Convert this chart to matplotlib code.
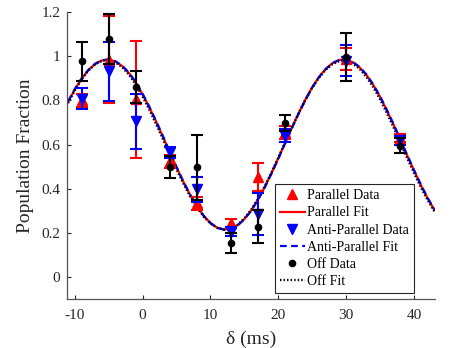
import numpy as np
import matplotlib
matplotlib.use('Agg')
import matplotlib.pyplot as plt

plt.rcParams['font.family'] = ['Liberation Serif', 'DejaVu Serif']
plt.rcParams['axes.unicode_minus'] = False

# measured data (delay in ms, population fraction, error)
delay = [-9, -5, -1, 4, 8, 13, 17, 21, 30, 38]

par_y = [0.800, 0.985, 0.805, 0.525, 0.335, 0.244, 0.454, 0.655, 0.987, 0.630]
par_err = [0.030, 0.195, 0.265, 0.030, 0.030, 0.020, 0.064, 0.030, 0.048, 0.020]

anti_y = [0.808, 0.932, 0.705, 0.565, 0.398, 0.206, 0.285, 0.640, 0.980, 0.620]
anti_err = [0.046, 0.133, 0.125, 0.025, 0.056, 0.020, 0.095, 0.030, 0.070, 0.020]

off_y = [0.977, 1.077, 0.862, 0.500, 0.497, 0.153, 0.229, 0.699, 0.995, 0.595]
off_err = [0.088, 0.113, 0.072, 0.050, 0.146, 0.045, 0.073, 0.037, 0.108, 0.035]

fit_x = np.arange(-11, 44)
par_fit = [0.793, 0.849, 0.898, 0.937, 0.965, 0.981, 0.985, 0.976, 0.955, 0.923,
           0.880, 0.827, 0.768, 0.703, 0.635, 0.565, 0.497, 0.432, 0.373, 0.321,
           0.278, 0.245, 0.224, 0.216, 0.219, 0.235, 0.263, 0.302, 0.351, 0.408,
           0.471, 0.538, 0.607, 0.676, 0.742, 0.804, 0.859, 0.906, 0.943, 0.969,
           0.983, 0.984, 0.973, 0.949, 0.915, 0.870, 0.816, 0.755, 0.690, 0.621,
           0.551, 0.484, 0.418, 0.358, 0.305]
anti_fit = [0.795, 0.851, 0.899, 0.938, 0.966, 0.982, 0.985, 0.977, 0.957, 0.925,
            0.882, 0.830, 0.771, 0.706, 0.638, 0.568, 0.499, 0.434, 0.374, 0.322,
            0.278, 0.245, 0.223, 0.215, 0.218, 0.234, 0.262, 0.300, 0.349, 0.406,
            0.469, 0.536, 0.605, 0.674, 0.740, 0.802, 0.858, 0.905, 0.942, 0.969,
            0.983, 0.985, 0.974, 0.951, 0.917, 0.872, 0.818, 0.757, 0.692, 0.623,
            0.553, 0.485, 0.420, 0.360, 0.307]
off_fit = [0.788, 0.845, 0.895, 0.935, 0.963, 0.979, 0.982, 0.972, 0.950, 0.916,
           0.871, 0.817, 0.757, 0.692, 0.624, 0.555, 0.488, 0.424, 0.366, 0.316,
           0.274, 0.243, 0.223, 0.215, 0.220, 0.237, 0.266, 0.305, 0.354, 0.411,
           0.474, 0.541, 0.609, 0.677, 0.742, 0.803, 0.857, 0.903, 0.939, 0.964,
           0.978, 0.979, 0.967, 0.942, 0.906, 0.860, 0.805, 0.743, 0.677, 0.608,
           0.539, 0.472, 0.408, 0.350, 0.298]

x_ticks = [-10, 0, 10, 20, 30, 40]
y_ticks = [0, 0.2, 0.4, 0.6, 0.8, 1.0, 1.2]
y_tick_labels = ['0', '0.2', '0.4', '0.6', '0.8', '1', '1.2']

fig = plt.figure(figsize=(4.5, 3.48), dpi=100)
ax = fig.add_axes([0.1496, 0.14, 0.817, 0.8255])

# fits
h_pf, = ax.plot(fit_x, par_fit, color='#ff0000', lw=1.6, label='Parallel Fit')
h_af, = ax.plot(fit_x, anti_fit, color='#0000ff', lw=1.6, ls=(0, (3, 2)),
                label='Anti-Parallel Fit')
h_of, = ax.plot(fit_x, off_fit, color='black', lw=1.7, ls=(0, (0.6, 0.9)),
                label='Off Fit')

# data with error bars
ebar = dict(fmt='none', elinewidth=1.5, capsize=4, capthick=1.5)
ax.errorbar(delay, par_y, yerr=par_err, ecolor='#ff0000', **ebar)
h_pd, = ax.plot(delay, par_y, ls='none', marker='^', ms=7, color='#ff0000',
                label='Parallel Data')
ax.errorbar(delay, anti_y, yerr=anti_err, ecolor='#0000ff', **ebar)
h_ad, = ax.plot(delay, anti_y, ls='none', marker='v', ms=7, color='#0000ff',
                label='Anti-Parallel Data')
ax.errorbar(delay, off_y, yerr=off_err, ecolor='black', **ebar)
h_od, = ax.plot(delay, off_y, ls='none', marker='o', ms=4.5, color='black',
                label='Off Data')

ax.set_xlim(-11.1, 43.1)
ax.set_ylim(-0.1, 1.2)
ax.set_xticks(x_ticks)
ax.set_yticks(y_ticks)
ax.set_yticklabels(y_tick_labels)
ax.tick_params(direction='in', length=3, labelsize=11, colors='#262626', width=0.8)
ax.tick_params(axis='x', pad=7)
ax.tick_params(axis='y', pad=5)
for s in ['top', 'right']:
    ax.spines[s].set_visible(False)
for s in ['left', 'bottom']:
    ax.spines[s].set_color('#555555')
    ax.spines[s].set_linewidth(0.9)

ax.set_xlabel('δ (ms)', fontsize=14, color='#262626', labelpad=6)
ax.set_ylabel('Population Fraction', fontsize=14, color='#262626', labelpad=5)

leg = ax.legend(handles=[h_pd, h_pf, h_ad, h_af, h_od, h_of],
                loc='lower right', bbox_to_anchor=(0.943, 0.022),
                fontsize=10, frameon=True, fancybox=False, framealpha=1,
                edgecolor='#262626', labelspacing=0.3, handlelength=1.8,
                handletextpad=0.2, borderpad=0.35, borderaxespad=0)
leg.get_frame().set_linewidth(0.8)

fig.savefig('out.png', dpi=100)
